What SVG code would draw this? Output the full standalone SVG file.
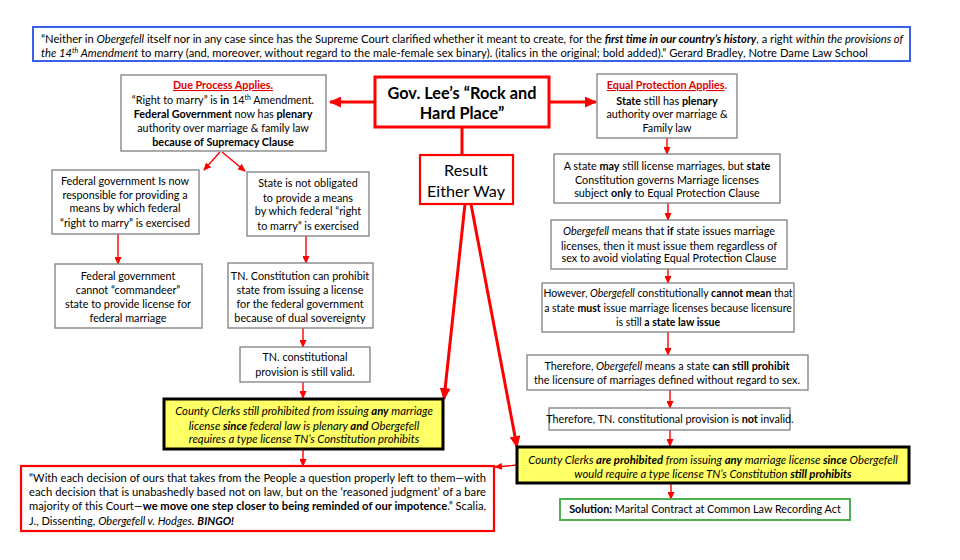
<svg xmlns="http://www.w3.org/2000/svg" width="960" height="560" viewBox="0 0 960 560">
<defs>
<style>
text{font-family:Lato,"Liberation Sans",sans-serif;font-size:10.8px;fill:#000}
.c{text-anchor:middle}
.b{font-weight:bold}
.i{font-style:italic}
.red{fill:#e00000}
.u{text-decoration:underline}
.sup{font-size:7px}
.yl{font-size:11.3px}
.q{font-size:11.2px}
.sm{font-size:10.5px}
.box{fill:#fff;stroke:#7f7f7f;stroke-width:1.3}
.rbox{fill:#fff;stroke:#ff0000;stroke-width:2.2}
.rbox3{fill:#fff;stroke:#ff0000;stroke-width:3}
.ybox{fill:#ffff66;stroke:#000;stroke-width:3}
.bbox{fill:#fff;stroke:#3a62e8;stroke-width:2}
.gbox{fill:#fff;stroke:#4caf50;stroke-width:2}
.thin{stroke:#ff0000;stroke-width:1.4;fill:none;marker-end:url(#ah)}
.thick{stroke:#ff0000;stroke-width:3;fill:none}
</style>
<marker id="ah" markerUnits="userSpaceOnUse" markerWidth="8" markerHeight="7" refX="7" refY="3.5" orient="auto"><path d="M0,0 L8,3.5 L0,7 Z" fill="#ff0000"/></marker>
<marker id="ahb" markerUnits="userSpaceOnUse" markerWidth="12" markerHeight="11" refX="11" refY="5.5" orient="auto"><path d="M0,0 L12,5.5 L0,11 Z" fill="#ff0000"/></marker>
</defs>

<g id="connectors">
<line class="thick" x1="375" y1="102" x2="330" y2="102" marker-end="url(#ahb)"/>
<line class="thick" x1="549" y1="102" x2="596" y2="102" marker-end="url(#ahb)"/>
<line class="thick" x1="462" y1="127" x2="462" y2="154"/>
<line class="thick" x1="465" y1="204" x2="444" y2="399" marker-end="url(#ahb)"/>
<line class="thick" x1="471" y1="204" x2="517" y2="447" marker-end="url(#ahb)"/>
<line class="thin" x1="220" y1="152" x2="204" y2="170"/>
<line class="thin" x1="222" y1="152" x2="245" y2="171"/>
<line class="thin" x1="118" y1="234" x2="118" y2="264"/>
<line class="thin" x1="306" y1="236" x2="306" y2="263"/>
<line class="thin" x1="303" y1="328" x2="303" y2="347"/>
<line class="thin" x1="303" y1="382" x2="303" y2="398"/>
<line class="thin" x1="303" y1="450" x2="303" y2="466"/>
<line class="thin" x1="667" y1="138" x2="667" y2="154"/>
<line class="thin" x1="668" y1="203" x2="668" y2="220"/>
<line class="thin" x1="668" y1="269" x2="668" y2="283"/>
<line class="thin" x1="668" y1="332" x2="668" y2="355"/>
<line class="thin" x1="670" y1="390" x2="670" y2="408"/>
<line class="thin" x1="670" y1="430" x2="670" y2="446"/>
<line class="thin" x1="671" y1="484" x2="671" y2="499"/>
<line class="thin" x1="518" y1="465" x2="495" y2="467"/>
</g>

<g id="quote-top">
<rect class="bbox" x="33" y="27" width="877" height="34"/>
<text class="q" x="41" y="43" textLength="862" lengthAdjust="spacing">“Neither in <tspan class="i">Obergefell</tspan> itself nor in any case since has the Supreme Court clarified whether it meant to create, for the <tspan class="b i">first time in our country’s history</tspan>, a right <tspan class="i">within the provisions of</tspan></text>
<text class="q" x="41" y="57" textLength="827" lengthAdjust="spacing"><tspan class="i">the 14</tspan><tspan class="i sup" dy="-4">th</tspan><tspan class="i" dy="4"> Amendment</tspan> to marry (and, moreover, without regard to the male-female sex binary). (italics in the original; bold added).” Gerard Bradley, Notre Dame Law School</text>
</g>

<g id="gov-lee">
<rect class="rbox3" x="375" y="77" width="174" height="50"/>
<text class="c b" x="462" y="99" style="font-size:16.3px">Gov. Lee’s “Rock and</text>
<text class="c b" x="462" y="119" style="font-size:16.3px">Hard Place”</text>
</g>

<g id="result">
<rect class="rbox" x="420" y="155" width="93" height="49"/>
<text class="c" x="466" y="176" style="font-size:16.2px">Result</text>
<text class="c" x="466" y="197" style="font-size:16.2px">Either Way</text>
</g>

<g id="due-process">
<rect class="box" x="121" y="75" width="205" height="76"/>
<text class="c b red u" x="223" y="89">Due Process Applies.</text>
<text class="c" x="223" y="104">“Right to marry” is <tspan class="b">in</tspan> 14<tspan class="sup" dy="-4">th</tspan><tspan dy="4"> Amendment.</tspan></text>
<text class="c" x="223" y="118"><tspan class="b">Federal Government</tspan> now has <tspan class="b">plenary</tspan></text>
<text class="c" x="223" y="132">authority  over marriage &amp;  family law</text>
<text class="c b" x="223" y="146">because of  Supremacy Clause</text>
</g>

<g id="equal-protection">
<rect class="box" x="597" y="74" width="140" height="64"/>
<text class="c b red" x="667" y="89"><tspan class="u">Equal Protection Applies</tspan>.</text>
<text class="c" x="667" y="105"><tspan class="b">State</tspan> still has <tspan class="b">plenary</tspan></text>
<text class="c" x="667" y="118">authority over marriage &amp;</text>
<text class="c" x="667" y="132">Family law</text>
</g>

<g id="fed-responsible">
<rect class="box" x="52" y="170" width="147" height="64"/>
<text class="c" x="125" y="185">Federal government Is now</text>
<text class="c" x="125" y="199">responsible for providing a</text>
<text class="c" x="125" y="212">means by which federal</text>
<text class="c" x="125" y="227">“right to marry” is exercised</text>
</g>

<g id="state-not-obligated">
<rect class="box" x="247" y="172" width="122" height="64"/>
<text class="c" x="308" y="187">State is not obligated</text>
<text class="c" x="308" y="202">to provide a means</text>
<text class="c" x="308" y="215">by which federal “right</text>
<text class="c" x="308" y="230">to marry” is exercised</text>
</g>

<g id="fed-cannot">
<rect class="box" x="55" y="264" width="147" height="64"/>
<text class="c" x="128" y="280">Federal government</text>
<text class="c" x="128" y="294">cannot “commandeer”</text>
<text class="c" x="128" y="308">state to provide  license for</text>
<text class="c" x="128" y="322">federal marriage</text>
</g>

<g id="tn-can-prohibit">
<rect class="box" x="228" y="263" width="145" height="65"/>
<text class="c" x="300" y="280">TN. Constitution can prohibit</text>
<text class="c" x="300" y="294">state from issuing a license</text>
<text class="c" x="300" y="308">for the federal  government</text>
<text class="c" x="300" y="322">because of dual sovereignty</text>
</g>

<g id="tn-still-valid">
<rect class="box" x="240" y="347" width="130" height="35"/>
<text class="c" x="305" y="361">TN. constitutional</text>
<text class="c" x="305" y="376">provision is still valid.</text>
</g>

<g id="clerks-left">
<rect class="ybox" x="164" y="399" width="279" height="50"/>
<text class="c i yl" x="304" y="415">County Clerks still prohibited from issuing <tspan class="b">any</tspan> marriage</text>
<text class="c i yl" x="304" y="430">license <tspan class="b">since</tspan> federal law is plenary <tspan class="b">and</tspan> Obergefell</text>
<text class="c i yl" x="304" y="443">requires a type license TN’s Constitution prohibits</text>
</g>

<g id="scalia">
<rect class="rbox" x="21" y="466" width="473" height="65"/>
<text class="q" x="29" y="482" textLength="457" lengthAdjust="spacing">“With each decision of ours that takes from the People a question properly left to them—with</text>
<text class="q" x="29" y="496" textLength="457" lengthAdjust="spacing">each decision that is unabashedly based not on law, but on the ‘reasoned judgment’ of a bare</text>
<text class="q" x="29" y="510" textLength="457" lengthAdjust="spacing">majority of this Court—<tspan class="b">we move one step closer to being reminded of our impotence</tspan>.” Scalia,</text>
<text class="q" x="29" y="525" textLength="205" lengthAdjust="spacingAndGlyphs">J., Dissenting, <tspan class="i">Obergefell v. Hodges.</tspan> <tspan class="b i">BINGO!</tspan></text>
</g>

<g id="state-may">
<rect class="box" x="554" y="154" width="226" height="49"/>
<text class="c" x="667" y="170">A state <tspan class="b">may</tspan> still license marriages, but <tspan class="b">state</tspan></text>
<text class="c" x="667" y="184">Constitution governs  Marriage licenses</text>
<text class="c" x="667" y="197">subject <tspan class="b">only</tspan> to Equal Protection Clause</text>
</g>

<g id="obergefell-means">
<rect class="box" x="551" y="220" width="236" height="49"/>
<text class="c" x="669" y="235"><tspan class="i">Obergefell</tspan> means that <tspan class="b">if</tspan> state issues marriage</text>
<text class="c" x="669" y="250">licenses, then it must issue them regardless of</text>
<text class="c" x="669" y="262">sex to avoid violating Equal Protection Clause</text>
</g>

<g id="however">
<rect class="box" x="542" y="283" width="252" height="49"/>
<text class="c sm" x="668" y="297">However, <tspan class="i">Obergefell</tspan> constitutionally <tspan class="b">cannot mean</tspan> that</text>
<text class="c sm" x="668" y="312">a state <tspan class="b">must</tspan> issue marriage licenses because licensure</text>
<text class="c sm" x="668" y="326">is still <tspan class="b">a state law issue</tspan></text>
</g>

<g id="therefore-prohibit">
<rect class="box" x="527" y="355" width="281" height="35"/>
<text class="c" x="667" y="370">Therefore, <tspan class="i">Obergefell</tspan> means a state <tspan class="b">can still prohibit</tspan></text>
<text class="c" x="667" y="384">the licensure of marriages defined without regard to sex.</text>
</g>

<g id="therefore-not-invalid">
<rect class="box" x="549" y="408" width="241" height="22"/>
<text class="c" x="670" y="423">Therefore, TN. constitutional provision is <tspan class="b">not</tspan> invalid.</text>
</g>

<g id="clerks-right">
<rect class="ybox" x="517" y="447" width="392" height="36"/>
<text class="c i yl" x="713" y="464">County Clerks <tspan class="b">are prohibited</tspan> from issuing <tspan class="b">any</tspan> marriage license <tspan class="b">since</tspan> Obergefell</text>
<text class="c i yl" x="713" y="478">would require a type license TN’s Constitution <tspan class="b">still prohibits</tspan></text>
</g>

<g id="solution">
<rect class="gbox" x="560" y="499" width="290" height="21"/>
<text class="c" x="705" y="513"><tspan class="b">Solution:</tspan> Marital Contract at Common Law Recording Act</text>
</g>
</svg>
